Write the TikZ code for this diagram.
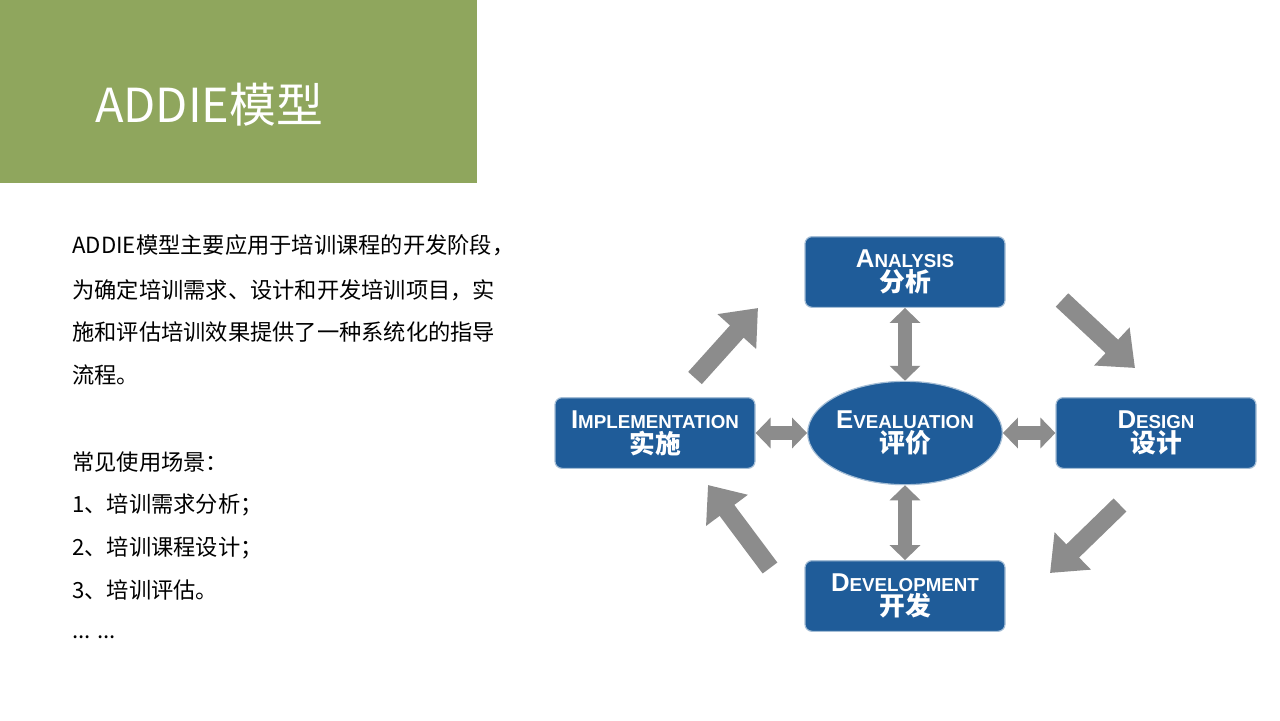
\documentclass[tikz,border=0pt]{standalone}
\usepackage{fontspec}
\setmainfont{Noto Sans CJK SC}
\newfontfamily\boxfont{Liberation Sans}
\usetikzlibrary{arrows.meta,shapes.geometric}
\definecolor{titlegreen}{HTML}{8FA65D}
\definecolor{boxblue}{HTML}{1F5C99}
\definecolor{arrowgray}{HTML}{8C8C8C}
\newcommand{\phase}[3]{{\boxfont\bfseries\fontsize{22}{24}\selectfont #1\fontsize{16}{18}\selectfont #2}\\[1pt]{\bfseries\fontsize{22}{26}\selectfont #3}}
\tikzset{
  phasebox/.style={draw=boxblue!40, line width=1pt, fill=boxblue, rounded corners=6pt,
    minimum width=6cm, minimum height=2.12cm, text=white, align=center, inner sep=0pt},
  bodytext/.style={anchor=west, inner sep=0pt, font=\fontsize{19}{22}\selectfont},
  bigarrow/.style={arrowgray, line width=0.55cm, -{Triangle[length=0.95cm,width=1.5cm]}},
  twoway/.style={arrowgray, line width=0.4cm, {Triangle[length=0.45cm,width=0.9cm]}-{Triangle[length=0.45cm,width=0.9cm]}}
}
\begin{document}
\begin{tikzpicture}[x=0.03cm,y=-0.03cm]
    \useasboundingbox [fill=white] (0,0) rectangle (1280,720);
    \fill [titlegreen] (0,0) rectangle (477,183);
    \node [anchor=west, text=white, inner sep=0pt, font=\fontsize{40}{44}\selectfont] (title) at (95,105) {ADDIE模型};
    \node [bodytext] (l1) at (72,245) {ADDIE模型主要应用于培训课程的开发阶段，};
    \node [bodytext] (l2) at (72,290) {为确定培训需求、设计和开发培训项目，实};
    \node [bodytext] (l3) at (72,332) {施和评估培训效果提供了一种系统化的指导};
    \node [bodytext] (l4) at (72,375) {流程。};
    \node [bodytext] (s0) at (72,462) {常见使用场景：};
    \node [bodytext] (s1) at (72,505) {1、培训需求分析；};
    \node [bodytext] (s2) at (72,548) {2、培训课程设计；};
    \node [bodytext] (s3) at (72,590) {3、培训评估。};
    \node [bodytext] (s4) at (72,637) {... ...};
    % phases
    \node [phasebox] (ana) at (905,272) {\phase{A}{NALYSIS}{分析}};
    \node [phasebox] (imp) at (655,433) {\phase{I}{MPLEMENTATION}{实施}};
    \node [phasebox] (des) at (1156,433) {\phase{D}{ESIGN}{设计}};
    \node [phasebox] (dev) at (905,596) {\phase{D}{EVELOPMENT}{开发}};
    \node [ellipse, draw=boxblue!40, line width=1pt, fill=boxblue, text=white, align=center,
      minimum width=5.7cm, minimum height=3.1cm, inner sep=0pt] (eva) at (905,433) {\phase{E}{VEALUATION}{评价}};
    % links to the centre
    \draw [twoway] (ana) -- (eva);
    \draw [twoway] (eva) -- (dev);
    \draw [twoway] (imp) -- (eva);
    \draw [twoway] (eva) -- (des);
    % cycle
    \coordinate (c1) at (695,378); \coordinate (c2) at (758,308);
    \coordinate (c3) at (1062,300); \coordinate (c4) at (1135,368);
    \coordinate (c5) at (1120,505); \coordinate (c6) at (1050,573);
    \coordinate (c7) at (770,568); \coordinate (c8) at (708,485);
    \draw [bigarrow] (c1) -- (c2);
    \draw [bigarrow] (c3) -- (c4);
    \draw [bigarrow] (c5) -- (c6);
    \draw [bigarrow] (c7) -- (c8);
\end{tikzpicture}
\end{document}
